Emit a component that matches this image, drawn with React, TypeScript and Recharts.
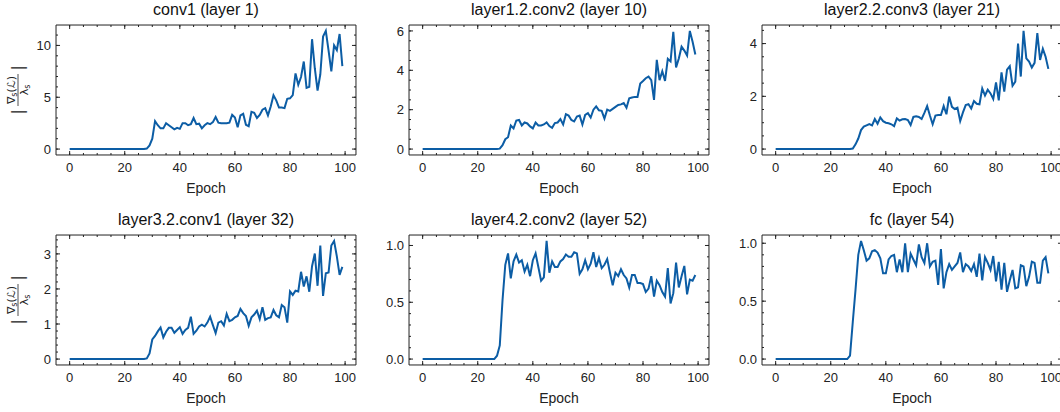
import { LineChart, Line, XAxis, YAxis } from 'recharts';

// epochs 0..99
const epochs = Array.from({ length: 100 }, (_, i) => i);

const conv1 = [
  0, 0, 0, 0, 0, 0, 0, 0, 0, 0, 0, 0, 0, 0, 0, 0, 0, 0, 0, 0,
  0, 0, 0, 0, 0, 0, 0, 0, 0.05, 0.35, 1.0, 2.7, 2.3, 2.0, 2.0, 2.5, 2.3, 2.1, 1.9, 2.05,
  1.95, 2.5, 2.5, 2.3, 2.4, 3.0, 2.4, 2.45, 2.0, 2.3, 2.5, 2.4, 2.6, 3.1, 2.55, 2.5, 2.5, 2.5, 2.55, 3.3,
  3.05, 2.1, 3.25, 3.4, 2.35, 2.2, 3.6, 3.5, 3.0, 3.3, 3.8, 3.95, 3.25, 4.1, 5.2, 4.7, 4.0, 4.0, 3.95, 4.85,
  4.9, 5.2, 7.3, 6.2, 6.95, 8.45, 5.9, 6.0, 10.6, 7.8, 5.65, 7.2, 10.85, 11.4, 9.5, 7.5, 10.0, 9.55, 11.1, 8.0,
];

const layer1_2_conv2 = [
  0, 0, 0, 0, 0, 0, 0, 0, 0, 0, 0, 0, 0, 0, 0, 0, 0, 0, 0, 0,
  0, 0, 0, 0, 0, 0, 0, 0, 0.02, 0.2, 0.5, 0.6, 1.2, 1.05, 1.45, 1.48, 1.2, 1.35, 1.3, 1.15,
  1.05, 1.35, 1.2, 1.2, 1.25, 1.35, 1.17, 1.08, 1.32, 1.35, 1.52, 1.25, 1.77, 1.7, 1.48, 1.4, 1.65, 1.7, 1.25, 1.73,
  1.82, 1.6, 2.0, 2.17, 1.97, 1.94, 1.55, 2.0, 1.94, 2.04, 2.14, 2.24, 2.27, 2.34, 2.1, 2.58, 2.62, 2.65, 2.65, 3.33,
  3.46, 3.6, 3.68, 3.5, 2.5, 4.53, 3.5, 3.95, 3.46, 4.58, 4.45, 5.95, 4.15, 4.6, 5.2, 5.0, 4.75, 6.0, 5.45, 4.8,
];

const layer2_2_conv3 = [
  0, 0, 0, 0, 0, 0, 0, 0, 0, 0, 0, 0, 0, 0, 0, 0, 0, 0, 0, 0,
  0, 0, 0, 0, 0, 0, 0, 0, 0.02, 0.18, 0.4, 0.72, 0.85, 0.9, 0.95, 0.9, 1.14, 0.96, 1.2, 1.06,
  1.0, 0.98, 0.94, 0.87, 1.16, 1.08, 1.13, 1.14, 1.1, 0.91, 1.22, 1.24, 1.22, 1.14, 1.37, 1.63, 1.27, 0.94, 1.27, 1.29,
  1.29, 1.63, 1.32, 1.99, 1.6, 1.52, 1.57, 1.06, 1.39, 1.67, 1.7, 1.54, 1.82, 1.72, 1.7, 2.3, 2.03, 2.25, 2.11, 1.9,
  2.53, 1.85, 2.91, 2.18, 3.01, 3.14, 2.4, 2.56, 4.0, 2.75, 4.48, 3.44, 3.32, 3.09, 3.27, 4.4, 3.38, 3.8, 3.5, 3.04,
];

const layer3_2_conv1 = [
  0, 0, 0, 0, 0, 0, 0, 0, 0, 0, 0, 0, 0, 0, 0, 0, 0, 0, 0, 0,
  0, 0, 0, 0, 0, 0, 0, 0, 0.02, 0.16, 0.56, 0.66, 0.79, 0.9, 0.62, 0.78, 0.89, 0.89, 0.75, 0.83,
  0.91, 0.72, 0.83, 0.89, 1.21, 0.72, 0.81, 0.93, 0.98, 0.93, 1.04, 1.21, 0.97, 0.74, 1.04, 1.08, 0.96, 1.29, 1.08, 1.12,
  1.19, 1.23, 1.43, 1.31, 1.23, 0.95, 1.19, 1.27, 1.38, 1.14, 1.48, 1.12, 1.17, 1.19, 1.4, 1.25, 1.19, 1.54, 1.48, 1.04,
  1.93, 1.83, 1.95, 1.93, 2.49, 2.07, 2.36, 1.92, 2.65, 3.01, 2.09, 3.24, 1.8, 2.45, 2.47, 3.24, 3.37, 2.93, 2.4, 2.63,
];

const layer4_2_conv2 = [
  0, 0, 0, 0, 0, 0, 0, 0, 0, 0, 0, 0, 0, 0, 0, 0, 0, 0, 0, 0,
  0, 0, 0, 0, 0, 0, 0, 0.03, 0.12, 0.52, 0.83, 0.93, 0.71, 0.86, 0.92, 0.85, 0.87, 0.77, 0.83, 0.73,
  0.87, 0.93, 0.81, 0.69, 0.72, 1.04, 0.76, 0.86, 0.81, 0.81, 0.86, 0.88, 0.92, 0.9, 0.9, 0.94, 0.93, 0.75, 0.79, 0.87,
  0.79, 0.84, 0.94, 0.81, 0.89, 0.8, 0.83, 0.88, 0.76, 0.65, 0.76, 0.73, 0.79, 0.74, 0.71, 0.63, 0.74, 0.74, 0.67, 0.67,
  0.66, 0.59, 0.62, 0.73, 0.55, 0.69, 0.65, 0.59, 0.55, 0.8, 0.49, 0.58, 0.85, 0.63, 0.73, 0.82, 0.57, 0.7, 0.69, 0.74,
];

const fc = [
  0, 0, 0, 0, 0, 0, 0, 0, 0, 0, 0, 0, 0, 0, 0, 0, 0, 0, 0, 0,
  0, 0, 0, 0, 0, 0, 0, 0.03, 0.32, 0.6, 0.9, 1.02, 0.94, 0.85, 0.87, 0.93, 0.94, 0.92, 0.87, 0.74,
  0.74, 0.86, 0.89, 0.9, 0.75, 0.86, 0.75, 1.0, 0.75, 0.91, 0.86, 0.81, 0.99, 0.88, 0.83, 1.0, 0.8, 0.84, 0.85, 0.64,
  0.95, 0.61, 0.75, 0.82, 0.77, 0.8, 0.83, 0.92, 0.75, 0.82, 0.8, 0.76, 0.82, 0.71, 0.91, 0.68, 0.88, 0.83, 0.77, 0.89,
  0.67, 0.84, 0.6, 0.83, 0.58, 0.68, 0.77, 0.61, 0.62, 0.81, 0.8, 0.63, 0.71, 0.84, 0.83, 0.66, 0.66, 0.85, 0.88, 0.74,
];

const titles = [
  'conv1 (layer 1)',
  'layer1.2.conv2 (layer 10)',
  'layer2.2.conv3 (layer 21)',
  'layer3.2.conv1 (layer 32)',
  'layer4.2.conv2 (layer 52)',
  'fc (layer 54)',
];
const series = [conv1, layer1_2_conv2, layer2_2_conv3, layer3_2_conv1, layer4_2_conv2, fc];
const yTicks = [
  [0, 5, 10],
  [0, 2, 4, 6],
  [0, 2, 4],
  [0, 1, 2, 3],
  [0, 0.5, 1.0],
  [0, 0.5, 1.0],
];
const yMinorSteps = [1, 0.5, 0.5, 0.2, 0.1, 0.1];
const xTicks = [0, 20, 40, 60, 80, 100];
const xMinorStep = 5;

const AXIS = '#222';
const LINE = '#0C5DA5';
const FONT = '"Liberation Sans", Arial, Helvetica, sans-serif';

const PLOT_W = 300;
const PLOT_H = 130;
const ML = 56;
const MT = 25;
const MR = 4;
const MB = 50;
const CW = ML + PLOT_W + MR;
const CH = MT + PLOT_H + MB;
const SZ = 0.01; // axes take (almost) no room; margins set the plot box
const colLeft = [0, 353, 706];
const rowTop = [0, 210];

const xDomain: [number, number] = [-4.95, 103.95];

function stepTicks(lo: number, hi: number, step: number) {
  const out: number[] = [];
  for (let k = Math.ceil(lo / step - 1e-9); k * step <= hi + 1e-9; k++) out.push(+(k * step).toFixed(3));
  return out;
}

// |∇s(L) / λs| written sideways, like the mathtext label
function GradLabel() {
  const cx = 18;
  const cy = MT + PLOT_H / 2;
  return (
    <g transform={`translate(${cx},${cy}) rotate(-90)`} fill={AXIS} fontFamily='"DejaVu Sans", sans-serif'>
      <text x={-22} y={5} fontSize={15} textAnchor="middle">|</text>
      <text x={0} y={-3.5} fontSize={11} textAnchor="middle">
        ∇<tspan fontSize={8} dy={2}>s</tspan><tspan dy={-2}>(ℒ)</tspan>
      </text>
      <line x1={-16} x2={16} y1={0} y2={0} stroke={AXIS} strokeWidth={0.8} />
      <text x={0} y={10} fontSize={11} textAnchor="middle">
        λ<tspan fontSize={8} dy={2}>s</tspan>
      </text>
      <text x={22} y={5} fontSize={15} textAnchor="middle">|</text>
    </g>
  );
}

const noLabel = () => <g />;

function Panel({ idx }: { idx: number }) {
  const values = series[idx];
  const data = epochs.map((e, i) => ({ epoch: e, value: values[i] }));
  const lo = Math.min(...values);
  const hi = Math.max(...values);
  const pad = (hi - lo) * 0.05;
  const yDomain: [number, number] = [lo - pad, hi + pad];
  const yMinor = stepTicks(yDomain[0], yDomain[1], yMinorSteps[idx]);
  const xMinor = stepTicks(xDomain[0], xDomain[1], xMinorStep);
  const decimals = yMinorSteps[idx] < 0.2 ? 1 : 0;
  const col = idx % 3;
  const row = Math.floor(idx / 3);
  const lineStyle = { stroke: AXIS, strokeWidth: 1 };

  return (
    <div style={{ position: 'absolute', left: colLeft[col], top: rowTop[row] }}>
      <LineChart width={CW} height={CH} data={data} margin={{ top: MT, right: MR, bottom: MB, left: ML }}>
        <XAxis
          xAxisId="x" dataKey="epoch" type="number" domain={xDomain} allowDataOverflow
          ticks={xTicks} interval={0} height={SZ} tickSize={-4} tickMargin={12}
          axisLine={lineStyle} tickLine={lineStyle} tick={{ fontSize: 13, fill: AXIS }}
          label={{ value: 'Epoch', position: 'bottom', offset: 28, fontSize: 14, fill: AXIS }}
        />
        <XAxis
          xAxisId="xm" dataKey="epoch" type="number" domain={xDomain} allowDataOverflow
          ticks={xMinor} interval={0} height={SZ} tickSize={-2} axisLine={false} tickLine={lineStyle} tick={noLabel}
        />
        <XAxis
          xAxisId="xt" orientation="top" dataKey="epoch" type="number" domain={xDomain} allowDataOverflow
          ticks={xTicks} interval={0} height={SZ} tickSize={-4} axisLine={lineStyle} tickLine={lineStyle} tick={noLabel}
          label={{ value: titles[idx], position: 'top', offset: 10, fontSize: 16, fill: '#111' }}
        />
        <XAxis
          xAxisId="xtm" orientation="top" dataKey="epoch" type="number" domain={xDomain} allowDataOverflow
          ticks={xMinor} interval={0} height={SZ} tickSize={-2} axisLine={false} tickLine={lineStyle} tick={noLabel}
        />
        <YAxis
          yAxisId="y" type="number" domain={yDomain} allowDataOverflow ticks={yTicks[idx]} interval={0}
          width={SZ} tickSize={-4} tickMargin={9} axisLine={lineStyle} tickLine={lineStyle}
          tick={{ fontSize: 13, fill: AXIS }} tickFormatter={(v: number) => v.toFixed(decimals)}
          label={col === 0 ? { content: () => <GradLabel /> } : undefined}
        />
        <YAxis
          yAxisId="ym" type="number" domain={yDomain} allowDataOverflow ticks={yMinor} interval={0}
          width={SZ} tickSize={-2} axisLine={false} tickLine={lineStyle} tick={noLabel}
        />
        <YAxis
          yAxisId="yr" orientation="right" type="number" domain={yDomain} allowDataOverflow ticks={yTicks[idx]} interval={0}
          width={SZ} tickSize={-4} axisLine={lineStyle} tickLine={lineStyle} tick={noLabel}
        />
        <YAxis
          yAxisId="yrm" orientation="right" type="number" domain={yDomain} allowDataOverflow ticks={yMinor} interval={0}
          width={SZ} tickSize={-2} axisLine={false} tickLine={lineStyle} tick={noLabel}
        />
        <Line
          xAxisId="x" yAxisId="y" type="linear" dataKey="value" stroke={LINE} strokeWidth={2}
          dot={false} isAnimationActive={false}
        />
      </LineChart>
    </div>
  );
}

export default function App() {
  return (
    <div
      style={{
        position: 'absolute', left: 0, top: 0, width: 1060, height: 412,
        overflow: 'hidden', background: '#fff', fontFamily: FONT,
      }}
    >
      {titles.map((_, i) => (
        <Panel key={i} idx={i} />
      ))}
    </div>
  );
}
